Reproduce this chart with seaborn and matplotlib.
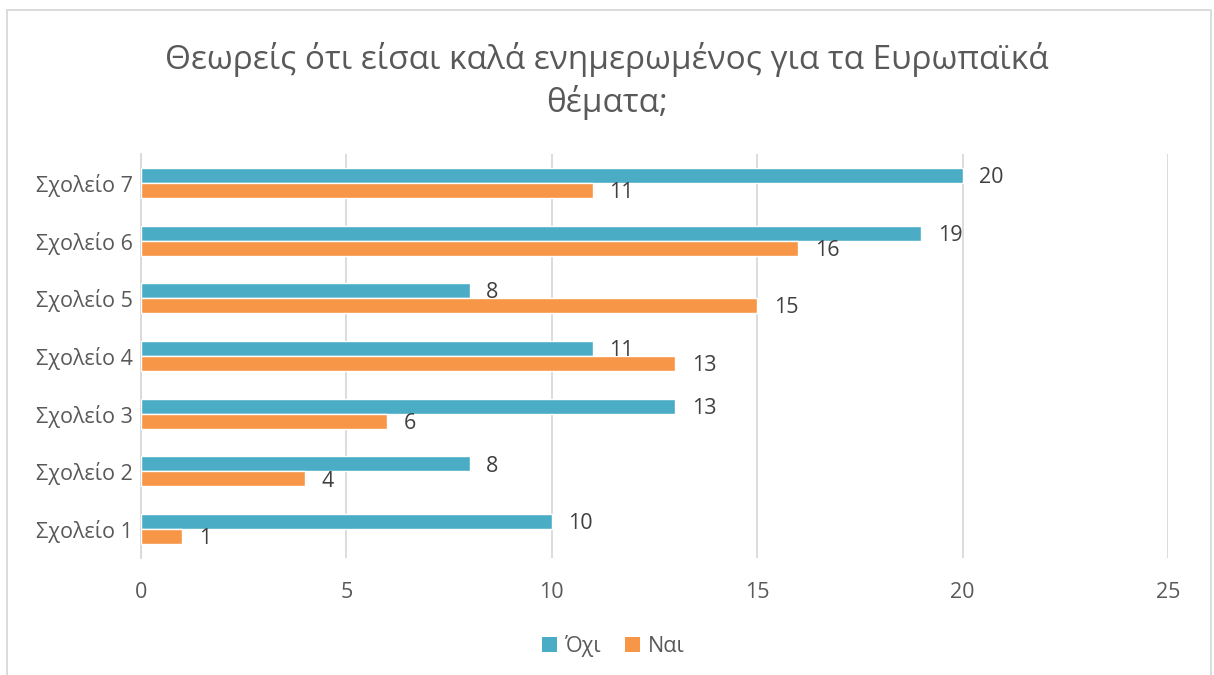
import matplotlib
matplotlib.use("Agg")
import matplotlib.pyplot as plt
import seaborn as sns
import pandas as pd
from matplotlib.patches import Rectangle, Patch

schools = ["Σχολείο 7", "Σχολείο 6", "Σχολείο 5", "Σχολείο 4", "Σχολείο 3", "Σχολείο 2", "Σχολείο 1"]
ochi = [20, 19, 8, 11, 13, 8, 10]
nai = [11, 16, 15, 13, 6, 4, 1]
series_names = ["Όχι", "Ναι"]
colors = ["#4BACC6", "#F79646"]
title = "Θεωρείς ότι είσαι καλά ενημερωμένος για τα Ευρωπαϊκά\nθέματα;"
xticks = [0, 5, 10, 15, 20, 25]

df = pd.DataFrame({
    "school": schools * 2,
    "value": ochi + nai,
    "series": [series_names[0]] * len(schools) + [series_names[1]] * len(schools),
})

sns.set_theme(style="white")
plt.rcParams["font.family"] = ["Open Sans", "DejaVu Sans"]

fig = plt.figure(figsize=(12.14, 6.75), dpi=100)
ax = fig.add_axes([0.1161, 0.1733, 0.846, 0.5986])

sns.barplot(data=df, y="school", x="value", hue="series", order=schools,
            hue_order=series_names, palette=colors, orient="h", width=0.52,
            ax=ax, saturation=1, legend=False, zorder=3)

ax.set_xlim(0, 25)
ax.set_xticks(xticks)
ax.set_xticklabels([str(t) for t in xticks], fontsize=15.5, color="#595959")
ax.tick_params(axis="y", labelsize=15.5, labelcolor="#595959", length=0, pad=6)
ax.tick_params(axis="x", length=0, pad=17)
ax.set_xlabel("")
ax.set_ylabel("")
ax.xaxis.grid(True, color="#D9D9D9", linewidth=1.3, zorder=0)
ax.yaxis.grid(False)
for s in ["top", "right", "bottom"]:
    ax.spines[s].set_visible(False)
ax.spines["left"].set_color("#D9D9D9")
ax.spines["left"].set_linewidth(1.3)

for cont in ax.containers:
    for bar in cont:
        w = bar.get_width()
        ax.annotate(f"{int(w)}", xy=(w, bar.get_y() + bar.get_height() / 2),
                    xytext=(12, -1.5), textcoords="offset points", ha="left",
                    va="center", fontsize=15.5, color="#404040")

fig.text(0.5, 0.88, title, ha="center", va="center", fontsize=24,
         color="#595959", linespacing=1.3)

handles = [Patch(facecolor=c, edgecolor="none") for c in colors]
fig.legend(handles, series_names, loc="center", bbox_to_anchor=(0.505, 0.043),
           ncol=2, frameon=False, fontsize=15.5, labelcolor="#595959",
           handlelength=0.7, handleheight=0.7, handletextpad=0.35,
           columnspacing=1.1)

fig.patches.append(Rectangle((7 / 1214, -0.01), (1211 - 7) / 1214, 1 - 10 / 675 + 0.01,
                             transform=fig.transFigure, fill=False,
                             edgecolor="#D9D9D9", linewidth=1.3))

fig.savefig("out.png", dpi=100)
